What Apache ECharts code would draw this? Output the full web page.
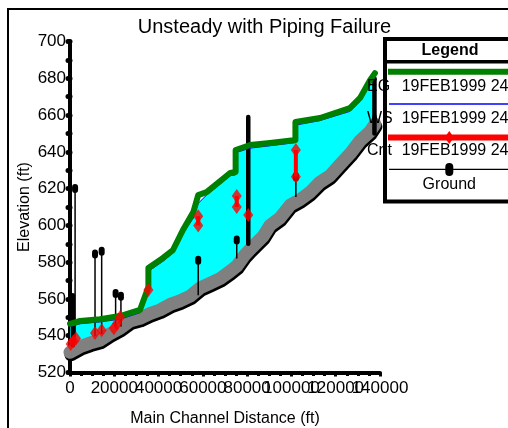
<!DOCTYPE html>
<html><head><meta charset="utf-8">
<script src="https://cdn.jsdelivr.net/npm/echarts@6/dist/echarts.min.js"></script>
<style>html,body{margin:0;padding:0;background:#fff}#c{width:508px;height:428px}</style>
</head><body><div id="c"></div>
<script>
const FONT = 'Liberation Sans, Arial, sans-serif';

// Ground (main channel invert) profile
const groundStations = [0, 4500, 9000, 13500, 18000, 22600, 27100, 31600, 36100, 40600, 45200, 49700, 54200, 58700, 63200, 67700, 72300, 75400, 79000, 81300, 87200, 90300, 94800, 99400, 103900, 108400, 112900, 117400, 121900, 126500, 131000, 135500, 137700];
const groundElev     = [531, 534, 536, 537.5, 541, 544, 548, 549.5, 552, 554, 557, 559, 561.5, 566, 568.5, 571, 575, 578, 584, 587, 594, 600, 604, 611, 614, 618, 623.5, 627, 633, 639, 646, 651, 655];

// Energy grade and water surface (same stations)
const egStations = [0, 4500, 13500, 22600, 31600, 35400, 35400, 42000, 46500, 51000, 55700, 57900, 61700, 72300, 74800, 74800, 81300, 90300, 101800, 101800, 112900, 126400, 131000, 135500, 137700];
const egElev     = [546.5, 548, 549, 550.7, 554, 566.5, 576.8, 582.3, 586.6, 597.5, 607.3, 616.5, 618.1, 628.5, 629, 641, 643.7, 644.8, 646.4, 656.2, 658.4, 663.8, 669.3, 679, 682.8];
const wsElev     = [545, 546.5, 547.5, 549, 552.5, 565, 575, 580.5, 585, 595.5, 604, 612, 616.5, 627, 627.5, 639.5, 642, 643.3, 645, 654.5, 657, 662, 667.5, 677, 680.5];

// Critical depth points
const critStations = [300, 1500, 2700, 11300, 14300, 19800, 21300, 22600, 35400, 57900, 57900, 75300, 75300, 80500, 102000, 102000];
const critElev     = [535.5, 537, 538.5, 541.5, 543, 544, 546.5, 550, 564.8, 600, 605, 610, 616, 605.6, 626.5, 641];

// Thin structure stems
const stemStations = [2300, 11300, 14300, 20600, 23000, 57900, 75300, 102000];
const stemBottom   = [537, 540, 541, 544, 545, 562, 582, 615.5];
const stemTop      = [620, 584.4, 586, 563, 561.5, 581, 592, 626.5];

// Thick posts
const postStations = [1300, 80500, 137500];
const postBottom   = [535, 590, 650];
const postTop      = [562, 659, 680];

// Axis tick labels
const xTickValues = [0, 20000, 40000, 60000, 80000, 100000, 120000, 140000];
const yTickValues = [520, 540, 560, 580, 600, 620, 640, 660, 680, 700];

const legendNames = ['EG', 'WS', 'Crit', 'Ground'];
const profileName = '19FEB1999 2400';
const titleText = 'Unsteady with Piping Failure';

const chart = echarts.init(document.getElementById('c'), null, {renderer: 'canvas'});

const egData = egStations.map((s, i) => [s, egElev[i]]);
const wsData = egStations.map((s, i) => [s, wsElev[i]]);
const groundData = groundStations.map((s, i) => [s, groundElev[i]]);
const critData = critStations.map((s, i) => [s, critElev[i]]);
const critLinks = [];
for (let i = 1; i < critStations.length; i++) {
  if (critStations[i] === critStations[i - 1]) critLinks.push([critStations[i], critElev[i - 1], critElev[i]]);
}

const txt = {color: '#000', fontFamily: FONT};

chart.setOption({
  animation: false,
  backgroundColor: '#fff',
  grid: {left: 70, top: 41.5, right: 128, bottom: 55.5, containLabel: false, outerBoundsMode: 'none'},
  xAxis: {
    type: 'value', min: 0, max: 140000, interval: 20000,
    name: 'Main Channel Distance (ft)', nameLocation: 'middle', nameGap: 38,
    nameTextStyle: Object.assign({fontSize: 16}, txt),
    axisLine: {show: true, onZero: false, lineStyle: {color: '#000', width: 4, cap: 'round'}},
    axisTick: {show: true, length: 4, lineStyle: {color: '#000', width: 3}},
    minorTick: {show: true, splitNumber: 4, length: 3.5, lineStyle: {color: '#000', width: 3}},
    splitLine: {show: false},
    axisLabel: {show: false}
  },
  yAxis: {
    type: 'value', min: 520, max: 700, interval: 20,
    name: 'Elevation (ft)', nameLocation: 'middle', nameGap: 37,
    nameTextStyle: Object.assign({fontSize: 16}, txt),
    axisLine: {show: true, onZero: false, lineStyle: {color: '#000', width: 4, cap: 'round'}},
    axisTick: {show: true, length: 2, lineStyle: {color: '#000', width: 5, cap: 'round'}},
    minorTick: {show: true, splitNumber: 2, length: 2, lineStyle: {color: '#000', width: 5, cap: 'round'}},
    splitLine: {show: false},
    axisLabel: {show: false}
  },
  series: [
    {
      name: 'WSfill', type: 'custom', z: 1, silent: true,
      data: [[0, 600]], encode: {x: 0, y: 1},
      renderItem: (params, api) => {
        const pts = [];
        for (let i = 0; i < egStations.length; i++) pts.push(api.coord([egStations[i], wsElev[i]]));
        for (let i = groundStations.length - 1; i >= 0; i--) pts.push(api.coord([groundStations[i], groundElev[i]]));
        return {type: 'polygon', shape: {points: pts}, style: {fill: '#00ffff', stroke: null}};
      }
    },
    {
      name: 'Ground', type: 'line', z: 3, data: groundData, symbol: 'none', silent: true,
      lineStyle: {color: '#808080', width: 13, join: 'round', cap: 'round', shadowColor: '#000', shadowOffsetX: 1, shadowOffsetY: 2.5, shadowBlur: 0}
    },
    {
      name: 'Stems', type: 'custom', z: 4, silent: true,
      data: stemStations.map((s, i) => [s, stemBottom[i], stemTop[i]]), encode: {x: 0, y: [1, 2]},
      renderItem: (params, api) => {
        const p0 = api.coord([api.value(0), api.value(1)]);
        const p1 = api.coord([api.value(0), api.value(2)]);
        return {type: 'group', children: [
          {type: 'line', shape: {x1: p0[0], y1: p0[1], x2: p1[0], y2: p1[1]}, style: {stroke: '#000', lineWidth: 1.5}},
          {type: 'rect', shape: {x: p1[0] - 3, y: p1[1] - 4.5, width: 6, height: 9, r: 3}, style: {fill: '#000'}}
        ]};
      }
    },
    {
      name: 'Posts', type: 'custom', z: 4, silent: true,
      data: postStations.map((s, i) => [s, postBottom[i], postTop[i]]), encode: {x: 0, y: [1, 2]},
      renderItem: (params, api) => {
        const p0 = api.coord([api.value(0), api.value(1)]);
        const p1 = api.coord([api.value(0), api.value(2)]);
        return {type: 'line', shape: {x1: p0[0], y1: p0[1], x2: p1[0], y2: p1[1]}, style: {stroke: '#000', lineWidth: 4.5, lineCap: 'round'}};
      }
    },
    {
      name: 'WS', type: 'line', z: 5, data: wsData, symbol: 'none', silent: true,
      lineStyle: {color: '#0000ff', width: 1}
    },
    {
      name: 'EG', type: 'line', z: 6, data: egData, symbol: 'none', silent: true,
      lineStyle: {color: '#008000', width: 6, join: 'round', cap: 'round'}
    },
    {
      name: 'CritLinks', type: 'custom', z: 7, silent: true,
      data: critLinks, encode: {x: 0, y: [1, 2]},
      renderItem: (params, api) => {
        const p0 = api.coord([api.value(0), api.value(1)]);
        const p1 = api.coord([api.value(0), api.value(2)]);
        return {type: 'line', shape: {x1: p0[0], y1: p0[1], x2: p1[0], y2: p1[1]}, style: {stroke: '#ff0000', lineWidth: 4}};
      }
    },
    {
      name: 'Crit', type: 'scatter', z: 8, data: critData, symbol: 'diamond', symbolSize: [10, 14], silent: true,
      itemStyle: {color: '#ff0000'}
    },
    {
      name: 'XLabels', type: 'custom', z: 9, silent: true, clip: false,
      data: xTickValues.map(v => [v, 520]), encode: {x: 0, y: 1},
      renderItem: (params, api) => {
        const p = api.coord([api.value(0), api.value(1)]);
        return {type: 'text', x: p[0], y: p[1] + 16, style: {text: String(api.value(0)), fill: '#000', font: '17px ' + FONT, textAlign: 'center', textVerticalAlign: 'middle'}};
      }
    },
    {
      name: 'YLabels', type: 'custom', z: 9, silent: true, clip: false,
      data: yTickValues.map(v => [0, v]), encode: {x: 0, y: 1},
      renderItem: (params, api) => {
        const p = api.coord([api.value(0), api.value(1)]);
        return {type: 'text', x: p[0] - 4, y: p[1], style: {text: String(api.value(1)), fill: '#000', font: '17px ' + FONT, textAlign: 'right', textVerticalAlign: 'middle'}};
      }
    }
  ],
  graphic: [
    {type: 'rect', z: 100, silent: true, shape: {x: 8, y: 9, width: 560, height: 480}, style: {fill: 'none', stroke: '#000', lineWidth: 2}},
    {type: 'text', z: 100, silent: true, x: 264.5, y: 27, style: {text: titleText, fill: '#000', font: '20px ' + FONT, textAlign: 'center', textVerticalAlign: 'middle'}},
    {type: 'rect', z: 100, silent: true, shape: {x: 385, y: 39, width: 200, height: 162.5}, style: {fill: '#fff', stroke: '#000', lineWidth: 4}},
    {type: 'line', z: 101, silent: true, shape: {x1: 385, y1: 61.7, x2: 600, y2: 61.7}, style: {stroke: '#000', lineWidth: 3.5}},
    {type: 'text', z: 101, silent: true, x: 450, y: 50.5, style: {text: 'Legend', fill: '#000', font: 'bold 16px ' + FONT, textAlign: 'center', textVerticalAlign: 'middle'}},
    // EG
    {type: 'line', z: 101, silent: true, shape: {x1: 388, y1: 71.7, x2: 600, y2: 71.7}, style: {stroke: '#008000', lineWidth: 6}},
    {type: 'text', z: 102, silent: true, x: 367, y: 86.5, style: {text: legendNames[0], fill: '#000', font: '16px ' + FONT, textAlign: 'left', textVerticalAlign: 'middle'}},
    {type: 'text', z: 102, silent: true, x: 401.7, y: 86.5, style: {text: profileName, fill: '#000', font: '16px ' + FONT, textAlign: 'left', textVerticalAlign: 'middle'}},
    // WS
    {type: 'line', z: 101, silent: true, shape: {x1: 389, y1: 104, x2: 600, y2: 104}, style: {stroke: '#0000ff', lineWidth: 1.3}},
    {type: 'text', z: 102, silent: true, x: 367, y: 118.5, style: {text: legendNames[1], fill: '#000', font: '16px ' + FONT, textAlign: 'left', textVerticalAlign: 'middle'}},
    {type: 'text', z: 102, silent: true, x: 401.7, y: 118.5, style: {text: profileName, fill: '#000', font: '16px ' + FONT, textAlign: 'left', textVerticalAlign: 'middle'}},
    // Crit
    {type: 'line', z: 101, silent: true, shape: {x1: 388, y1: 137.5, x2: 600, y2: 137.5}, style: {stroke: '#ff0000', lineWidth: 6}},
    {type: 'polygon', z: 102, silent: true, shape: {points: [[449.3, 131], [454, 137.5], [449.3, 144], [444.6, 137.5]]}, style: {fill: '#ff0000'}},
    {type: 'text', z: 102, silent: true, x: 367, y: 150.5, style: {text: legendNames[2], fill: '#000', font: '16px ' + FONT, textAlign: 'left', textVerticalAlign: 'middle'}},
    {type: 'text', z: 102, silent: true, x: 401.7, y: 150.5, style: {text: profileName, fill: '#000', font: '16px ' + FONT, textAlign: 'left', textVerticalAlign: 'middle'}},
    // Ground
    {type: 'line', z: 101, silent: true, shape: {x1: 389, y1: 169.3, x2: 600, y2: 169.3}, style: {stroke: '#000', lineWidth: 1.3}},
    {type: 'rect', z: 102, silent: true, shape: {x: 445.3, y: 163, width: 8, height: 13, r: 4}, style: {fill: '#000'}},
    {type: 'text', z: 102, silent: true, x: 449.3, y: 184.5, style: {text: legendNames[3], fill: '#000', font: '16px ' + FONT, textAlign: 'center', textVerticalAlign: 'middle'}}
  ]
});
</script>
</body></html>
